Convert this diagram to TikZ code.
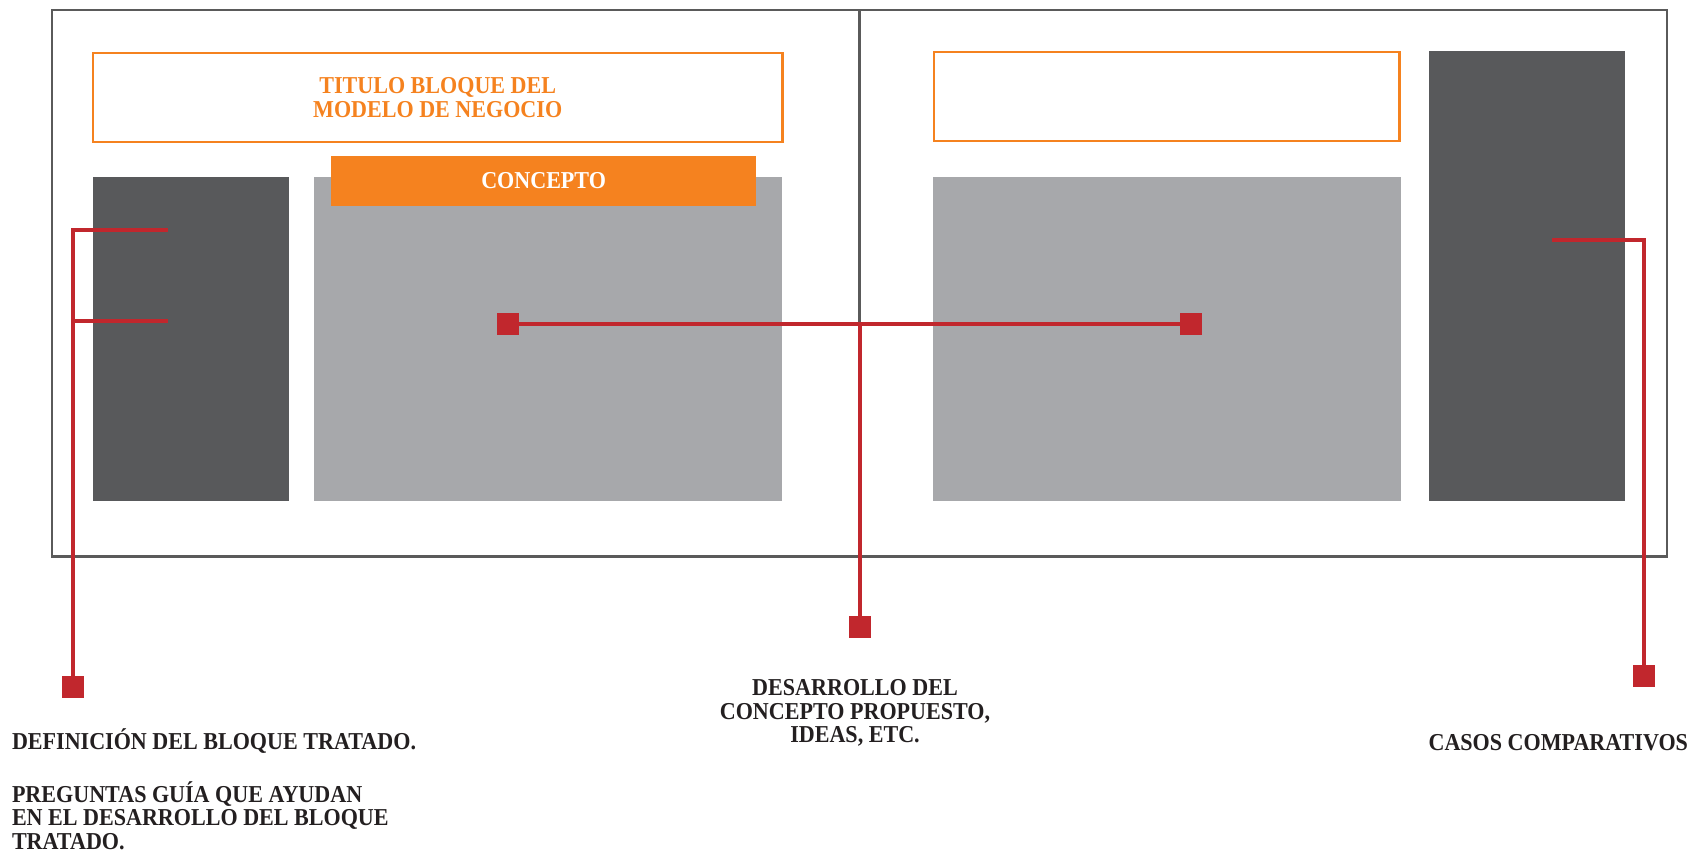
\documentclass[tikz,border=0pt]{standalone}
\usepackage{fontspec}
\setmainfont[FakeStretch=0.91]{Liberation Serif}
\definecolor{framegray}{HTML}{5A5A5A}
\definecolor{boxdark}{HTML}{58595B}
\definecolor{boxlight}{HTML}{A7A8AB}
\definecolor{accent}{HTML}{F5821F}
\definecolor{leadred}{HTML}{C1272D}
\definecolor{inktext}{HTML}{231F20}
\begin{document}
\begin{tikzpicture}[x=0.01cm, y=-0.01cm,
    every node/.style={inner sep=0pt, outer sep=0pt},
    panel/.style={draw=framegray, line width=0.8pt, anchor=north west},
    headbox/.style={draw=accent, line width=0.7pt, anchor=north west, align=center, text=accent,
        font=\bfseries\fontsize{6.9}{6.8}\selectfont},
    darkbox/.style={fill=boxdark, anchor=north west},
    lightbox/.style={fill=boxlight, anchor=north west},
    tagbox/.style={fill=accent, anchor=north west, text=white, font=\bfseries\fontsize{6.9}{6.8}\selectfont},
    redsq/.style={fill=leadred, minimum size=0.22cm},
    leader/.style={draw=leadred, line width=1.4pt},
    note/.style={text=inktext, font=\bfseries\fontsize{6.9}{6.8}\selectfont}]
    \useasboundingbox (0,0) rectangle (1700,850);

    % Outer frame and middle fold
    \node[panel, minimum width=16.14cm, minimum height=5.46cm] (frame) at (52,10) {};
    \draw[draw=framegray, line width=0.8pt] (frame.north) -- (frame.south);

    % Left page
    \node[headbox, minimum width=6.89cm, minimum height=0.89cm] (titleL) at (93,53) {TITULO BLOQUE DEL\\MODELO DE NEGOCIO};
    \node[darkbox, minimum width=1.96cm, minimum height=3.24cm] (defbox) at (93,177) {};
    \node[lightbox, minimum width=4.68cm, minimum height=3.24cm] (ideabox) at (314,177) {};
    \node[tagbox, minimum width=4.25cm, minimum height=0.50cm] (concept) at (331,156) {CONCEPTO};

    % Right page
    \node[headbox, minimum width=4.65cm, minimum height=0.89cm] (titleR) at (934,52) {};
    \node[lightbox, minimum width=4.68cm, minimum height=3.24cm] (devbox) at (933,177) {};
    \node[darkbox, minimum width=1.96cm, minimum height=4.50cm] (casebox) at (1429,51) {};

    % Red markers
    \node[redsq] (sqA) at (508,324) {};
    \node[redsq] (sqB) at (1191,324) {};
    \node[redsq] (sqC) at (860,627) {};
    \node[redsq] (sqD) at (73,687) {};
    \node[redsq] (sqE) at (1644,676) {};
    \coordinate (defA) at (168,230);
    \coordinate (defB) at (168,321);
    \coordinate (caseA) at (1552,240);

    % Leader lines
    \draw[leader] (sqD) |- (defA);
    \draw[leader] (defB -| sqD) -- (defB);
    \draw[leader] (sqA) -- (sqB);
    \draw[leader] (sqC) -- (sqC |- sqA);
    \draw[leader] (caseA) -| (sqE);

    % Captions
    \node[note, anchor=north west, align=left] (defText) at (12,729)
        {DEFINICIÓN DEL BLOQUE TRATADO.\\[6.8pt]PREGUNTAS GUÍA QUE AYUDAN\\EN EL DESARROLLO DEL BLOQUE\\TRATADO.};
    \node[note, anchor=north, align=center] (devText) at (855,679)
        {DESARROLLO DEL\\CONCEPTO PROPUESTO,\\IDEAS, ETC.};
    \node[note, anchor=north east] (caseText) at (1688,734) {CASOS COMPARATIVOS};
\end{tikzpicture}
\end{document}
